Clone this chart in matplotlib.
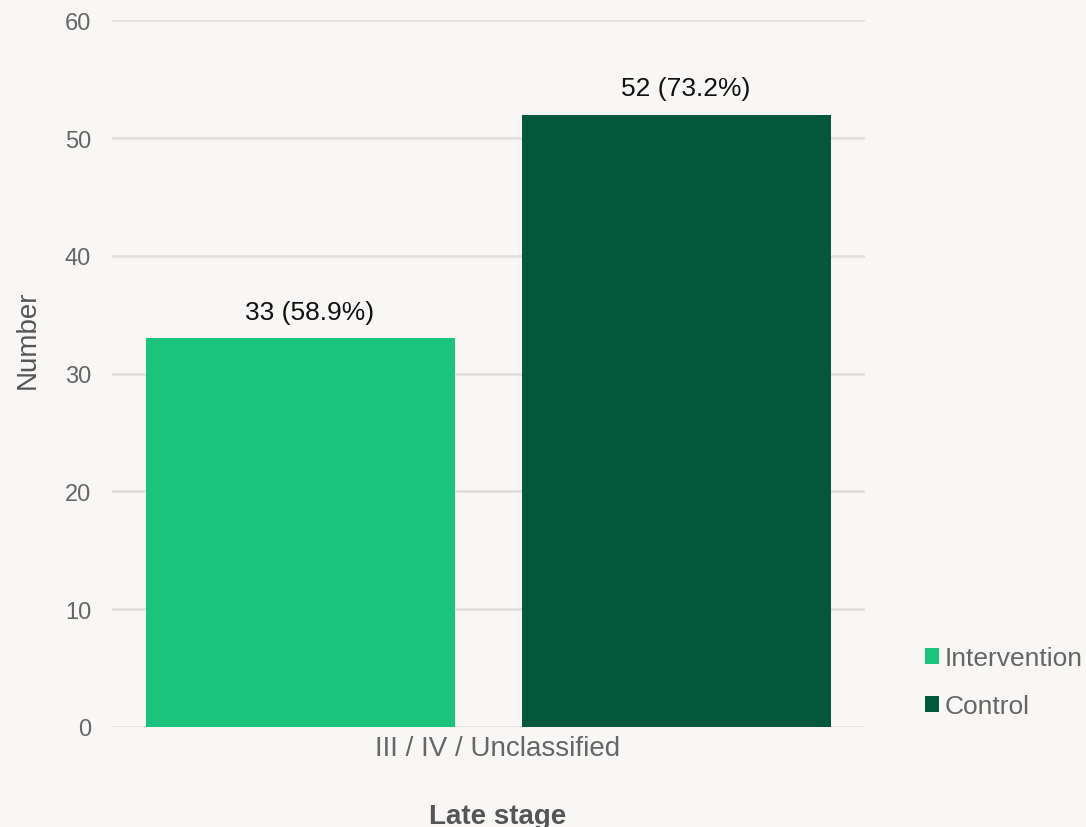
import matplotlib
matplotlib.use("Agg")
import matplotlib.pyplot as plt
from matplotlib.patches import Patch

plt.rcParams['font.family'] = ['Liberation Sans', 'DejaVu Sans']

category = "III / IV / Unclassified"
series = ["Intervention", "Control"]
values = [33, 52]
percents = ["58.9%", "73.2%"]
colors = ["#1bc47d", "#02583a"]
yticks = [0, 10, 20, 30, 40, 50, 60]

bg = "#f8f7f5"
fig = plt.figure(figsize=(10.86, 8.28), dpi=100, facecolor=bg)
ax = fig.add_axes([0.1031, 0.1208, 0.6934, 0.8535], facecolor=bg)

offsets = [-0.25, 0.25]
width = 0.41
text_nudge = 0.012  # labels sit slightly right of the bar centres
for off, v, p, c in zip(offsets, values, percents, colors):
    ax.bar(off, v, width=width, color=c, zorder=3)
    ax.text(off + text_nudge, v + 1.2, f"{v} ({p})", ha="center", va="bottom",
            fontsize=19, color="#111111")

ax.set_xlim(-0.5, 0.5)
ax.set_ylim(0, 60)
ax.set_yticks(yticks)
ax.set_yticklabels([str(t) for t in yticks])
ax.set_xticks([text_nudge])
ax.set_xticklabels([category])
ax.grid(axis="y", color="#e0dfdd", linewidth=1.8, zorder=0)
for s in ax.spines.values():
    s.set_visible(False)
ax.tick_params(axis="both", length=0, labelcolor="#666666")
ax.tick_params(axis="y", labelsize=17, pad=15)
ax.tick_params(axis="x", labelsize=20, pad=6)
ax.set_ylabel("Number", fontsize=20, color="#555555")
ax.yaxis.set_label_coords(-0.0943, 0.549)
ax.set_xlabel("Late stage", fontsize=20, color="#555555", fontweight="bold", labelpad=30)
ax.xaxis.label.set_x(0.5126)

handles = [Patch(facecolor=c, edgecolor="none") for c in colors]
fig.legend(handles, series, loc="upper left", bbox_to_anchor=(0.852, 0.218),
           frameon=False, fontsize=19, labelcolor="#666666",
           handlelength=0.53, handleheight=0.53, handletextpad=0.2,
           labelspacing=0.9, borderaxespad=0, borderpad=0)

fig.savefig("out.png", dpi=100, facecolor=bg)
